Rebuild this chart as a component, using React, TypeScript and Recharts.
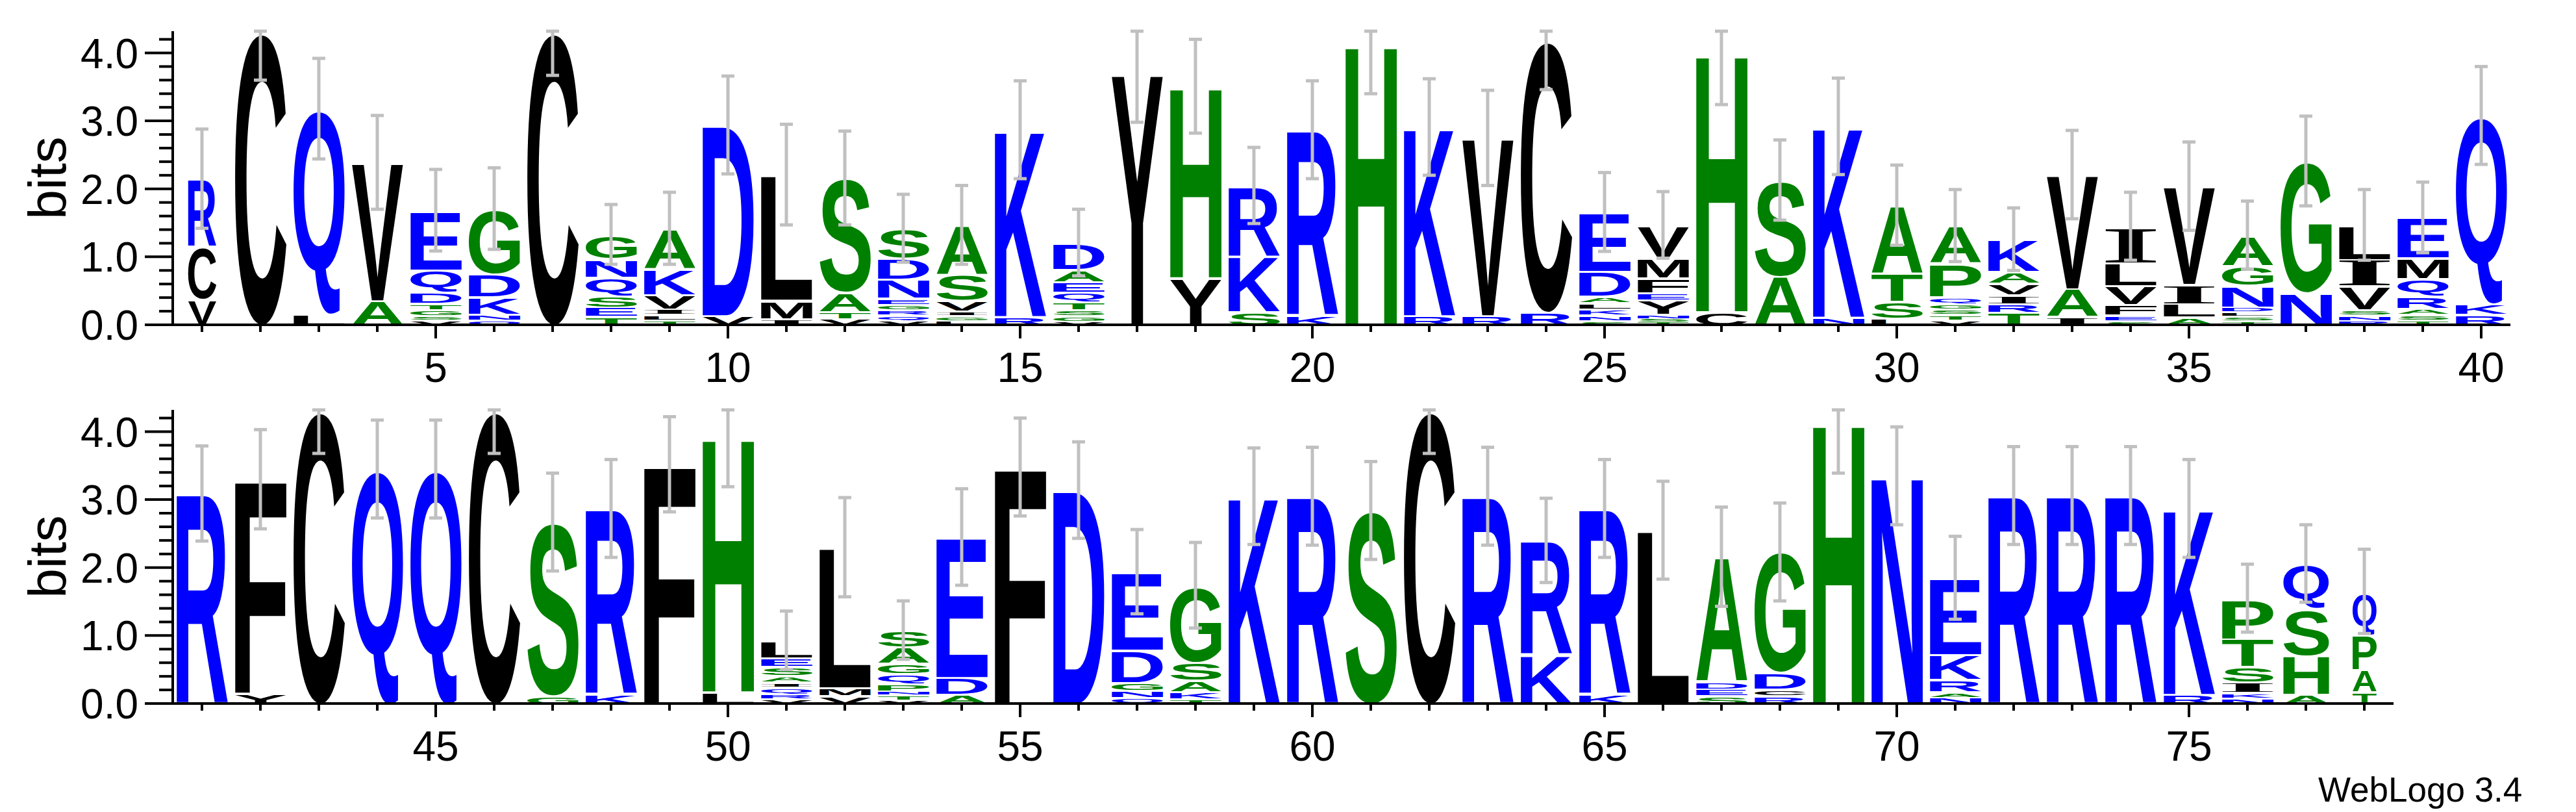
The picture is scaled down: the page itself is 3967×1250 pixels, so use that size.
import { Bar, ComposedChart, ErrorBar, Line, XAxis, YAxis } from "recharts";

const SANS = '"Liberation Sans", Arial, Helvetica, sans-serif';
const SERIF = '"Liberation Serif", "Times New Roman", serif';
const BITS_MAX = 4.32;

// residues of every column, bottom to top (smallest first, as WebLogo stacks them)
const residues: string[] = [
  "VCR", "C", "LQ", "AV", "VSGTDQE", "QNKDG", "C", "TESQNG", "TLIVKA", "VD",
  "IML", "VTAS", "VQRGENDS", "LGIVSA", "RK", "VGSTQEAD", "Y", "YH", "SKR", "KR",
  "H", "RK", "RV", "RC", "SNKLADE", "TSNYEFMV", "CH", "AS", "NK", "LSTA",
  "VTSGQPA", "TRIVAK", "IAV", "SEFVLI", "ALIV", "TSLDNGA", "NG", "RNSVIL", "TSARQME", "RKQ",
  "R", "YF", "C", "Q", "Q", "C", "GS", "KR", "F", "LH",
  "VRQIASEL", "VML", "VTNPQGAS", "ADE", "F", "D", "QNGDE", "TKASG", "K", "R",
  "S", "C", "R", "KR", "KR", "L", "SEDA", "RCDG", "H", "N",
  "NARKE", "R", "R", "R", "RK", "NKISTP", "AHSQ", "TAPQ",
];

// letter heights in bits, same order as residues
const heights: number[][] = [
  [0.38, 0.78, 0.99], [4.3], [0.17, 3.01], [0.36, 2.03],
  [0.076, 0.067, 0.089, 0.092, 0.162, 0.33, 0.87], [0.075, 0.09, 0.255, 0.335, 0.955], [4.3],
  [0.13, 0.14, 0.17, 0.27, 0.27, 0.35], [0.08, 0.08, 0.08, 0.21, 0.38, 0.59], [0.14, 2.8],
  [0.1, 0.27, 1.84], [0.1, 0.1, 0.28, 1.68], [0.07, 0.08, 0.08, 0.08, 0.09, 0.28, 0.31, 0.43],
  [0.07, 0.07, 0.07, 0.16, 0.38, 0.72], [0.13, 2.74], [0.06, 0.08, 0.09, 0.12, 0.14, 0.15, 0.18, 0.39],
  [3.69], [0.7, 2.81], [0.2, 0.82, 1.03], [0.14, 2.73],
  [4.13], [0.14, 2.77], [0.14, 2.61], [0.19, 3.99],
  [0.07, 0.08, 0.09, 0.09, 0.1, 0.36, 0.87], [0.05, 0.05, 0.06, 0.21, 0.11, 0.22, 0.285, 0.485],
  [0.2, 3.79], [0.72, 1.41], [0.12, 2.8], [0.1, 0.25, 0.42, 0.99],
  [0.08, 0.08, 0.08, 0.08, 0.1, 0.49, 0.55], [0.19, 0.13, 0.13, 0.17, 0.17, 0.47], [0.13, 0.41, 1.67],
  [0.07, 0.085, 0.15, 0.275, 0.34, 0.53], [0.12, 0.2, 0.28, 1.44], [0.065, 0.07, 0.065, 0.07, 0.32, 0.29, 0.44],
  [0.48, 1.93], [0.07, 0.08, 0.08, 0.35, 0.39, 0.5], [0.08, 0.08, 0.09, 0.18, 0.26, 0.3, 0.59], [0.16, 0.16, 2.76],
  [3.09], [0.16, 3.14], [4.3], [3.45], [3.45], [4.3], [0.12, 2.55], [0.14, 2.73], [3.52], [0.18, 3.74],
  [0.08, 0.07, 0.1, 0.07, 0.1, 0.13, 0.13, 0.25], [0.12, 0.12, 2.06], [0.06, 0.07, 0.06, 0.11, 0.15, 0.15, 0.24, 0.24],
  [0.14, 0.25, 2.06], [3.48], [3.14], [0.1, 0.1, 0.12, 0.47, 1.15], [0.08, 0.1, 0.17, 0.27, 1.12], [3.05], [3.05],
  [2.84], [4.3], [3.05], [0.72, 1.68], [0.14, 2.73], [2.55], [0.12, 0.1, 0.11, 1.83], [0.12, 0.1, 0.24, 1.77], [4.13], [3.35],
  [0.1, 0.08, 0.18, 0.37, 1.12], [3.06], [3.06], [3.06], [0.14, 2.73], [0.09, 0.08, 0.15, 0.23, 0.41, 0.59],
  [0.14, 0.57, 0.69, 0.66], [0.18, 0.33, 0.51, 0.63],
];

// half length of the error bar on each column, bits
const errors: number[] = [
  0.73, 0.7, 0.74, 0.69, 0.6, 0.6, 0.63, 0.44, 0.53, 0.72,
  0.74, 0.69, 0.5, 0.58, 0.72, 0.49, 0.71, 0.69, 0.56, 0.72,
  0.73, 0.71, 0.7, 0.72, 0.58, 0.49, 0.75, 0.59, 0.71, 0.59,
  0.53, 0.46, 0.65, 0.5, 0.65, 0.5, 0.66, 0.52, 0.52, 0.72,
  0.7, 0.73, 0.62, 0.72, 0.72, 0.62, 0.72, 0.72, 0.7, 0.73,
  0.43, 0.73, 0.43, 0.71, 0.72, 0.71, 0.62, 0.63, 0.71, 0.72,
  0.72, 0.62, 0.72, 0.62, 0.72, 0.72, 0.73, 0.72, 0.74, 0.72,
  0.61, 0.72, 0.72, 0.72, 0.72, 0.5, 0.57, 0.62,
];

// columns drawn narrower (fraction of full stack width)
const narrowColumns = [1, 77, 78];
const narrowWidths = [0.55, 0.89, 0.47];

const yTicks = [0, 0.2, 0.4, 0.6, 0.8, 1, 1.2, 1.4, 1.6, 1.8, 2, 2.2, 2.4, 2.6, 2.8, 3, 3.2, 3.4, 3.6, 3.8, 4, 4.2];
const LAYERS = [0, 1, 2, 3, 4, 5, 6, 7];

const hydrophilic = "RKDENQ";
const neutral = "SGHTAP";

function colorOf(ch: string) {
  if (hydrophilic.includes(ch)) return "#0000ff";
  if (neutral.includes(ch)) return "#008000";
  return "#000000";
}

const rows = residues.map((res, i) => {
  const row: Record<string, any> = { pos: i + 1 };
  let total = 0;
  LAYERS.forEach((k) => {
    const h = heights[i][k] ?? 0;
    row[`l${k}`] = h;
    row[`c${k}`] = res[k] ?? "";
    total += h;
  });
  row.total = total;
  row.err = [errors[i], Math.max(0, Math.min(errors[i], BITS_MAX - total))];
  const n = narrowColumns.indexOf(i + 1);
  row.wfrac = n >= 0 ? narrowWidths[n] : 1;
  return row;
});

const topRow = rows.slice(0, 40);
const bottomRow = rows.slice(40);

type Glyph = { family: string; left: number; right: number; ascent: number; descent: number };
const glyphCache = new Map<string, Glyph>();

function glyph(ch: string): Glyph {
  let g = glyphCache.get(ch);
  if (!g) {
    const family = ch === "I" ? SERIF : SANS;
    const ctx = document.createElement("canvas").getContext("2d")!;
    ctx.font = `bold 200px ${family}`;
    const m = ctx.measureText(ch);
    g = {
      family,
      left: m.actualBoundingBoxLeft,
      right: m.actualBoundingBoxRight,
      ascent: m.actualBoundingBoxAscent,
      descent: m.actualBoundingBoxDescent,
    };
    glyphCache.set(ch, g);
  }
  return g;
}

// stretches one residue glyph so its ink fills the bar rectangle
function letterShape(layer: number) {
  return (props: any) => {
    const { x, y, width, height, payload } = props;
    const ch: string = payload?.[`c${layer}`];
    if (!ch || !height || height < 0.5) return <g />;
    const w = width * (payload.wfrac ?? 1);
    const bx = x + (width - w) / 2;
    const gap = Math.min(3.5, height * 0.4);
    const h = height - gap;
    const g = glyph(ch);
    const sx = w / (g.left + g.right);
    const sy = h / (g.ascent + g.descent);
    return (
      <text
        x={0}
        y={0}
        fontSize={200}
        fontFamily={g.family}
        fontWeight="bold"
        fill={colorOf(ch)}
        transform={`translate(${bx} ${y + gap}) scale(${sx} ${sy}) translate(${g.left} ${g.ascent})`}
      >
        {ch}
      </text>
    );
  };
}

function XTick(props: any) {
  const { x, y, payload } = props;
  const major = payload.value % 5 === 0;
  return (
    <g>
      <line x1={x} x2={x} y1={y} y2={y + (major ? 21 : 11)} stroke="#000" strokeWidth={4} />
      {major && (
        <text x={x} y={y + 88} textAnchor="middle" fontSize={64} fontFamily={SANS} fill="#000">
          {payload.value}
        </text>
      )}
    </g>
  );
}

function YTick(props: any) {
  const { x, y, payload } = props;
  const v: number = payload.value;
  const major = Math.abs(v - Math.round(v)) < 1e-6;
  return (
    <g>
      <line x1={x - (major ? 43 : 21)} x2={x} y1={y} y2={y} stroke="#000" strokeWidth={4} />
      {major && (
        <text x={x - 53} y={y} dy="0.36em" textAnchor="end" fontSize={64} fontFamily={SANS} fill="#000">
          {v.toFixed(1)}
        </text>
      )}
    </g>
  );
}

function BitsLabel(props: any) {
  const vb = props.viewBox ?? { x: 0, y: 48, height: 452 };
  const cx = vb.x + 101;
  const cy = vb.y + vb.height / 2;
  return (
    <text x={cx} y={cy} transform={`rotate(-90 ${cx} ${cy})`} textAnchor="middle" fontSize={82} fontFamily={SANS} fill="#000">
      bits
    </text>
  );
}

function LogoRow({ data, marginRight }: { data: Record<string, any>[]; marginRight: number }) {
  return (
    <ComposedChart width={3967} height={600} data={data} margin={{ top: 48, right: marginRight, bottom: 0, left: 0 }} barSize={79}>
      <XAxis
        dataKey="pos"
        type="category"
        interval={0}
        height={100}
        tickSize={0}
        tickMargin={0}
        tickLine={false}
        axisLine={{ stroke: "#000", strokeWidth: 4 }}
        tick={XTick}
      />
      <YAxis
        type="number"
        domain={[0, BITS_MAX]}
        ticks={yTicks}
        allowDataOverflow
        interval={0}
        width={266}
        tickSize={0}
        tickMargin={0}
        tickLine={false}
        axisLine={{ stroke: "#000", strokeWidth: 4 }}
        tick={YTick}
        label={{ content: BitsLabel }}
      />
      {LAYERS.map((k) => (
        <Bar key={k} dataKey={`l${k}`} stackId="logo" shape={letterShape(k)} isAnimationActive={false} />
      ))}
      <Line dataKey="total" stroke="none" dot={false} activeDot={false} legendType="none" isAnimationActive={false}>
        <ErrorBar dataKey="err" direction="y" width={10} stroke="#c0c0c0" strokeWidth={5} isAnimationActive={false} />
      </Line>
    </ComposedChart>
  );
}

export default function App() {
  return (
    <div style={{ position: "absolute", left: 0, top: 0, width: 3967, height: 1250, background: "#fff", overflow: "hidden" }}>
      <div style={{ position: "absolute", left: 0, top: 0 }}>
        <LogoRow data={topRow} marginRight={101} />
      </div>
      <div style={{ position: "absolute", left: 0, top: 583 }}>
        <LogoRow data={bottomRow} marginRight={281} />
      </div>
      <div
        style={{
          position: "absolute",
          left: 3570,
          top: 1189,
          fontSize: 53,
          lineHeight: "53px",
          fontFamily: SANS,
          color: "#000",
          whiteSpace: "nowrap",
        }}
      >
        WebLogo 3.4
      </div>
    </div>
  );
}
